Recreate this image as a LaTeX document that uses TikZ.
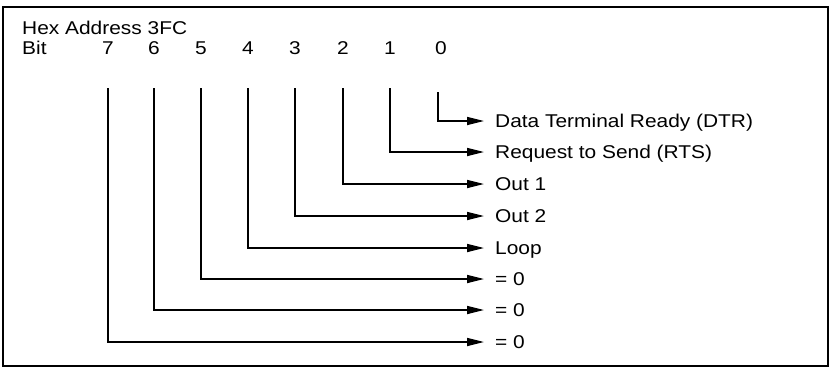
\documentclass[tikz,border=0pt]{standalone}
\usepackage{fontspec}
\setmainfont{Liberation Sans}[FakeStretch=1.13]
\usetikzlibrary{positioning,arrows.meta}

\begin{document}
\begin{tikzpicture}[x=1pt,y=-1pt,
        txt/.style={font=\fontsize{18.5}{22}\selectfont,inner sep=0pt},
        bitno/.style={txt,anchor=base},
        lbl/.style={txt,anchor=west,inner xsep=11pt,text height=13pt,text depth=0pt},
        arr/.style={-{Triangle[length=17pt,width=8pt]},line width=1.7pt}]
        \useasboundingbox (0,0) rectangle (829,370);
        \draw[line width=1.8pt] (3,7) rectangle (828,366);
        \node[txt,anchor=base west] (title) at (22,34) {Hex Address 3FC};
        \node[txt,anchor=base west] (bit) at (22,54) {Bit};
        \node[bitno] (b7) at (108,54) {7};
        \node[bitno] (b6) at (154,54) {6};
        \node[bitno] (b5) at (201,54) {5};
        \node[bitno] (b4) at (248,54) {4};
        \node[bitno] (b3) at (295,54) {3};
        \node[bitno] (b2) at (343,54) {2};
        \node[bitno] (b1) at (390,54) {1};
        \node[bitno] (b0) at (441,54) {0};
        \node[lbl] (dtr) at (484,121) {Data Terminal Ready (DTR)};
        \node[lbl] (rts) at (484,152) {Request to Send (RTS)};
        \node[lbl] (out1) at (484,184) {Out 1};
        \node[lbl] (out2) at (484,216) {Out 2};
        \node[lbl] (loop) at (484,248) {Loop};
        \node[lbl] (z5) at (484,279) {= 0};
        \node[lbl] (z6) at (484,310) {= 0};
        \node[lbl] (z7) at (484,342) {= 0};
        \draw[arr,shorten <=38pt] (b0.south -| 438,0) |- (dtr.west);
        \draw[arr,shorten <=34pt] (b1.south) |- (rts.west);
        \draw[arr,shorten <=34pt] (b2.south) |- (out1.west);
        \draw[arr,shorten <=34pt] (b3.south) |- (out2.west);
        \draw[arr,shorten <=34pt] (b4.south) |- (loop.west);
        \draw[arr,shorten <=34pt] (b5.south) |- (z5.west);
        \draw[arr,shorten <=34pt] (b6.south) |- (z6.west);
        \draw[arr,shorten <=34pt] (b7.south) |- (z7.west);
    \end{tikzpicture}
\end{document}
